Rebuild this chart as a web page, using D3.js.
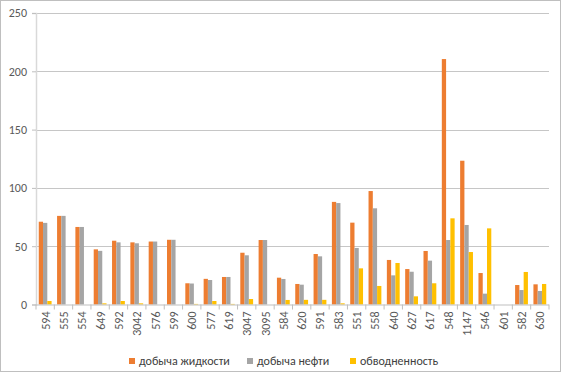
<!DOCTYPE html>
<html>
<head>
<meta charset="utf-8">
<script src="https://cdn.jsdelivr.net/npm/d3@7"></script>
<style>
  body { margin: 0; background: #fff; }
  #chart { width: 562px; height: 374px; }
  text { font-family: Calibri, Carlito, "Liberation Sans", Arial, sans-serif; }
</style>
</head>
<body>
<div id="chart"></div>
<script>
const categories = ["594", "555", "554", "649", "592", "3042", "576", "599", "600", "577",
  "619", "3047", "3095", "584", "620", "591", "583", "551", "558", "640",
  "627", "617", "548", "1147", "546", "601", "582", "630"];

// добыча жидкости
const liquid = [71, 76, 66.5, 47.3, 54.7, 53.3, 54, 55.5, 18.2, 22,
  23.6, 44.4, 55.3, 23, 17.6, 43.3, 88, 70.2, 97.3, 38.2,
  30.4, 45.9, 210.5, 123.3, 27, 0, 16.7, 17.3];
// добыча нефти
const oil = [70, 76, 66.5, 46, 53.3, 52.5, 54, 55.5, 18, 21,
  23.6, 42.2, 55.3, 21.9, 17, 41.3, 87, 48.5, 82.5, 25,
  28.1, 37.6, 55.3, 68.2, 9.3, 0, 12.4, 11.6];
// обводненность
const water = [3, 0, 0, 1, 3, 1, 0, 0, 0.5, 3,
  0.5, 4.7, 0, 3.9, 4, 4, 1, 31, 15.9, 35.6,
  7, 18.2, 73.9, 45, 65.3, 0, 27.9, 17.6];

const seriesNames = ["добыча жидкости", "добыча нефти", "обводненность"];
const seriesColors = ["#ED7D31", "#A5A5A5", "#FFC000"];
const yTicks = [0, 50, 100, 150, 200, 250];

const W = 562, H = 374;
const plot = { left: 36, right: 549, top: 13, bottom: 304.5 };

const svg = d3.select("#chart").append("svg")
  .attr("width", W).attr("height", H);

// рамка
svg.append("rect")
  .attr("x", 0.5).attr("y", 0.5)
  .attr("width", W - 2).attr("height", H - 3)
  .attr("fill", "#fff").attr("stroke", "#bfbfbf");

const x = d3.scaleBand().domain(categories)
  .range([plot.left, plot.right]).paddingInner(0.3).paddingOuter(0.15);
const xSub = d3.scaleBand().domain(d3.range(3)).range([0, x.bandwidth()]);
const y = d3.scaleLinear().domain([0, 250]).range([plot.bottom, plot.top]);

// сетка
svg.append("g").selectAll("line")
  .data(yTicks.slice(1))
  .enter().append("line")
  .attr("x1", plot.left).attr("x2", plot.right)
  .attr("y1", d => Math.round(y(d)) + 0.5).attr("y2", d => Math.round(y(d)) + 0.5)
  .attr("stroke", "#c6c6c6");

// ось Y
const yAxis = svg.append("g")
  .attr("transform", "translate(" + plot.left + ",0)")
  .call(d3.axisLeft(y).tickValues(yTicks).tickSize(4).tickPadding(5));
yAxis.select(".domain").attr("stroke", "#d9d9d9").attr("stroke-width", 1.5);
yAxis.selectAll(".tick line").attr("stroke", "#bfbfbf");
yAxis.selectAll("text").attr("fill", "#595959").style("font-size", "12px");

// столбцы
const data = [liquid, oil, water];
const groups = svg.append("g").selectAll("g")
  .data(categories)
  .enter().append("g")
  .attr("transform", d => "translate(" + x(d) + ",0)");

groups.selectAll("rect")
  .data((d, i) => data.map((s, k) => ({ k: k, v: s[i] })))
  .enter().append("rect")
  .attr("x", d => xSub(d.k))
  .attr("width", xSub.bandwidth())
  .attr("y", d => y(d.v))
  .attr("height", d => y(0) - y(d.v))
  .attr("fill", d => seriesColors[d.k]);

// ось X
const step = x.step();
const xAxis = svg.append("g");
xAxis.append("line")
  .attr("x1", plot.left).attr("x2", plot.right)
  .attr("y1", plot.bottom + 0.5).attr("y2", plot.bottom + 0.5)
  .attr("stroke", "#bfbfbf");
xAxis.selectAll(".tk")
  .data(d3.range(categories.length + 1))
  .enter().append("line")
  .attr("x1", i => plot.left + i * step).attr("x2", i => plot.left + i * step)
  .attr("y1", plot.bottom).attr("y2", plot.bottom + 5)
  .attr("stroke", "#bfbfbf");
xAxis.selectAll("text")
  .data(categories)
  .enter().append("text")
  .attr("transform", d => "translate(" + (x(d) + x.bandwidth() / 2 + 4.5) + "," + (plot.bottom + 7) + ") rotate(-90)")
  .attr("text-anchor", "end")
  .attr("fill", "#595959")
  .style("font-size", "12px")
  .text(d => d);

// легенда
const legendX = [129, 247, 350];
const legend = svg.append("g").selectAll("g")
  .data(seriesNames)
  .enter().append("g")
  .attr("transform", (d, i) => "translate(" + legendX[i] + ",358)");
legend.append("rect")
  .attr("width", 6).attr("height", 6)
  .attr("fill", (d, i) => seriesColors[i]);
legend.append("text")
  .attr("x", 10).attr("y", 7)
  .attr("fill", "#404040")
  .style("font-size", "12px")
  .text(d => d);
</script>
</body>
</html>
